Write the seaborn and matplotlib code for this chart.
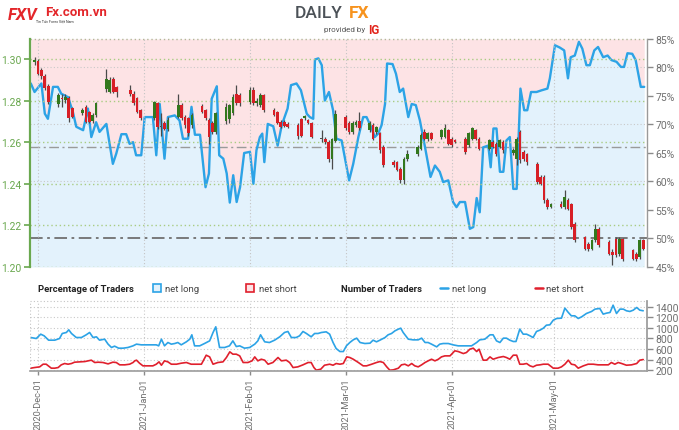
import numpy as np
import pandas as pd
import matplotlib
matplotlib.use("Agg")
import matplotlib.pyplot as plt
import matplotlib.dates as mdates
from matplotlib.patches import Rectangle
from matplotlib.lines import Line2D
from matplotlib.ticker import FuncFormatter
import seaborn as sns

# ---------------- data ----------------
# daily candles (USD/CAD), one week per row, Mon-Fri
candle_start, candle_end = "2020-11-30", "2021-05-27"
holidays = ["2020-12-25", "2021-01-01"]

opens = [
    1.2985, 1.2990, 1.2945, 1.2920, 1.2870,
    1.2785, 1.2812, 1.2802, 1.2810, 1.2762,
    1.2740, 1.2770, 1.2746, 1.2700, 1.2730,
    1.2858, 1.2842, 1.2906, 1.2866,
    1.2852, 1.2834, 1.2810, 1.2754,
    1.2714, 1.2786, 1.2673, 1.2690, 1.2665,
    1.2722, 1.2778, 1.2722, 1.2714, 1.2682,
    1.2773, 1.2754, 1.2706, 1.2690, 1.2650,
    1.2700, 1.2710, 1.2738, 1.2834, 1.2826,
    1.2794, 1.2850, 1.2790, 1.2778, 1.2826,
    1.2754, 1.2746, 1.2698, 1.2698, 1.2686,
    1.2682, 1.2710, 1.2714, 1.2706, 1.2690,
    1.2620, 1.2617, 1.2601, 1.2521, 1.2606,
    1.2722, 1.2690, 1.2650, 1.2682, 1.2700,
    1.2660, 1.2682, 1.2650, 1.2642, 1.2577,
    1.2505, 1.2505, 1.2473, 1.2417, 1.2521,
    1.2545, 1.2569, 1.2650, 1.2617, 1.2642,
    1.2625, 1.2625, 1.2658, 1.2617, 1.2609,
    1.2617, 1.2585, 1.2617, 1.2658, 1.2617,
    1.2569, 1.2601, 1.2593, 1.2577, 1.2601,
    1.2548, 1.2521, 1.2650, 1.2553, 1.2545,
    1.2497, 1.2433, 1.2433, 1.2321, 1.2289,
    1.2305, 1.2289, 1.2321, 1.2305, 1.2208,
    1.2144, 1.2112, 1.2088, 1.2128, 1.2184,
    1.2120, 1.2072, 1.2136, 1.2064, 1.2136,
    1.2080, 1.2064, 1.2048, 1.2128,
]
highs = [
    1.3010, 1.3000, 1.2955, 1.2930, 1.2880,
    1.2835, 1.2834, 1.2830, 1.2820, 1.2770,
    1.2765, 1.2778, 1.2752, 1.2740, 1.2795,
    1.2954, 1.2915, 1.2915, 1.2870,
    1.2874, 1.2845, 1.2815, 1.2760,
    1.2800, 1.2795, 1.2740, 1.2700, 1.2720,
    1.2834, 1.2790, 1.2730, 1.2720, 1.2740,
    1.2785, 1.2760, 1.2715, 1.2700, 1.2745,
    1.2790, 1.2785, 1.2834, 1.2874, 1.2835,
    1.2866, 1.2866, 1.2810, 1.2835, 1.2834,
    1.2765, 1.2750, 1.2705, 1.2705, 1.2695,
    1.2690, 1.2715, 1.2730, 1.2712, 1.2695,
    1.2657, 1.2625, 1.2610, 1.2620, 1.2755,
    1.2730, 1.2700, 1.2700, 1.2705, 1.2745,
    1.2700, 1.2690, 1.2680, 1.2650, 1.2585,
    1.2512, 1.2510, 1.2480, 1.2530, 1.2560,
    1.2585, 1.2645, 1.2665, 1.2650, 1.2650,
    1.2665, 1.2687, 1.2665, 1.2625, 1.2615,
    1.2625, 1.2650, 1.2675, 1.2665, 1.2625,
    1.2615, 1.2610, 1.2600, 1.2615, 1.2610,
    1.2570, 1.2625, 1.2658, 1.2560, 1.2550,
    1.2505, 1.2440, 1.2440, 1.2330, 1.2310,
    1.2315, 1.2369, 1.2330, 1.2310, 1.2215,
    1.2150, 1.2120, 1.2135, 1.2208, 1.2190,
    1.2130, 1.2085, 1.2142, 1.2142, 1.2140,
    1.2085, 1.2070, 1.2135, 1.2135,
]
lows = [
    1.2970, 1.2925, 1.2905, 1.2850, 1.2785,
    1.2770, 1.2770, 1.2790, 1.2695, 1.2715,
    1.2730, 1.2690, 1.2690, 1.2690, 1.2720,
    1.2840, 1.2835, 1.2835, 1.2818,
    1.2820, 1.2780, 1.2740, 1.2705,
    1.2705, 1.2665, 1.2630, 1.2660, 1.2655,
    1.2715, 1.2705, 1.2670, 1.2630, 1.2670,
    1.2740, 1.2705, 1.2593, 1.2640, 1.2640,
    1.2685, 1.2690, 1.2730, 1.2780, 1.2775,
    1.2785, 1.2780, 1.2775, 1.2770, 1.2745,
    1.2725, 1.2685, 1.2668, 1.2675, 1.2670,
    1.2617, 1.2625, 1.2705, 1.2685, 1.2620,
    1.2600, 1.2590, 1.2505, 1.2473, 1.2600,
    1.2660, 1.2640, 1.2640, 1.2675, 1.2660,
    1.2650, 1.2610, 1.2640, 1.2550, 1.2480,
    1.2480, 1.2460, 1.2405, 1.2400, 1.2510,
    1.2535, 1.2560, 1.2610, 1.2605, 1.2610,
    1.2615, 1.2620, 1.2585, 1.2575, 1.2595,
    1.2545, 1.2575, 1.2610, 1.2610, 1.2560,
    1.2560, 1.2570, 1.2535, 1.2570, 1.2550,
    1.2540, 1.2490, 1.2500, 1.2510, 1.2490,
    1.2400, 1.2395, 1.2310, 1.2280, 1.2282,
    1.2282, 1.2280, 1.2275, 1.2185, 1.2120,
    1.2080, 1.2075, 1.2080, 1.2120, 1.2095,
    1.2058, 1.2008, 1.2050, 1.2055, 1.2030,
    1.2035, 1.2030, 1.2040, 1.2080,
]
closes = [
    1.2995, 1.2930, 1.2917, 1.2860, 1.2795,
    1.2825, 1.2808, 1.2818, 1.2714, 1.2722,
    1.2755, 1.2698, 1.2698, 1.2730, 1.2786,
    1.2906, 1.2900, 1.2842, 1.2842,
    1.2830, 1.2786, 1.2746, 1.2714,
    1.2794, 1.2673, 1.2676, 1.2665, 1.2705,
    1.2778, 1.2714, 1.2682, 1.2642, 1.2730,
    1.2746, 1.2714, 1.2625, 1.2650, 1.2738,
    1.2770, 1.2778, 1.2818, 1.2786, 1.2786,
    1.2850, 1.2786, 1.2796, 1.2826, 1.2754,
    1.2730, 1.2690, 1.2674, 1.2680, 1.2675,
    1.2629, 1.2629, 1.2726, 1.2690, 1.2625,
    1.2617, 1.2601, 1.2521, 1.2617, 1.2734,
    1.2666, 1.2650, 1.2690, 1.2698, 1.2670,
    1.2690, 1.2617, 1.2674, 1.2561, 1.2489,
    1.2489, 1.2465, 1.2417, 1.2521, 1.2545,
    1.2577, 1.2634, 1.2617, 1.2642, 1.2617,
    1.2658, 1.2666, 1.2593, 1.2585, 1.2601,
    1.2553, 1.2642, 1.2666, 1.2617, 1.2569,
    1.2609, 1.2577, 1.2545, 1.2609, 1.2561,
    1.2561, 1.2617, 1.2513, 1.2521, 1.2505,
    1.2409, 1.2401, 1.2321, 1.2289, 1.2305,
    1.2289, 1.2337, 1.2281, 1.2192, 1.2128,
    1.2088, 1.2088, 1.2128, 1.2184, 1.2104,
    1.2064, 1.2056, 1.2056, 1.2136, 1.2040,
    1.2040, 1.2040, 1.2128, 1.2088,
]

# client sentiment, % of traders net long (days counted from 2020-12-01)
sent_days = [
    -2.1, -1.0, 1.0, 2.0, 2.9, 4.4, 5.8, 6.8, 8.8, 10.2,
    11.2, 13.2, 14.6, 15.6, 17.0, 18.0, 20.0, 21.9, 22.9, 24.4,
    25.8, 26.8, 27.8, 28.7, 30.2, 31.2, 33.6, 34.6, 35.6, 37.0,
    38.0, 40.0, 41.4, 42.4, 43.9, 44.9, 45.9, 47.4, 49.0, 50.0,
    50.8, 52.3, 53.0, 54.2, 55.2, 56.1, 57.1, 58.1, 59.1, 60.3,
    62.0, 63.0, 63.9, 64.9, 65.6, 66.2, 67.2, 68.8, 70.1, 71.3,
    73.0, 74.0, 75.6, 76.9, 78.6, 79.5, 80.5, 81.0, 82.0, 83.0,
    83.9, 85.1, 86.3, 87.3, 88.8, 89.8, 91.0, 92.2, 93.7, 95.1,
    96.1, 97.6, 98.5, 99.5, 100.5, 101.5, 102.1, 103.7, 104.7, 105.8,
    106.8, 108.3, 109.3, 110.5, 111.7, 113.2, 114.8, 116.1, 117.5, 118.5,
    120.0, 121.4, 122.4, 123.4, 124.9, 126.3, 127.3, 128.3, 129.2, 130.2,
    131.7, 132.4, 133.2, 134.1, 135.1, 136.1, 137.0, 138.0, 139.0, 140.0,
    140.6, 141.1, 142.2, 143.1, 144.2, 145.8, 147.3, 149.0, 149.7, 151.2,
    152.6, 153.9, 155.0, 155.8, 157.0, 158.2, 159.2, 160.4, 161.4, 162.7,
    163.8, 165.3, 166.6, 167.7, 169.2, 170.5, 171.4, 172.4, 173.8, 174.8,
    176.3, 177.3,
]
pct_long = [
    77.2, 75.7, 77.2, 71.9, 71.0, 76.6, 76.6, 75.4, 74.8, 72.2,
    69.6, 69.0, 72.8, 67.8, 70.4, 68.7, 70.1, 63.1, 64.9, 68.3,
    68.3, 66.6, 66.9, 64.6, 64.6, 71.3, 71.3, 64.6, 73.6, 64.0,
    71.3, 71.6, 70.7, 67.5, 67.5, 73.1, 68.2, 68.2, 59.0, 61.4,
    74.5, 76.7, 64.6, 64.0, 61.4, 56.3, 61.1, 56.4, 59.0, 65.0,
    65.2, 59.6, 65.5, 67.8, 68.4, 63.4, 70.1, 69.7, 66.3, 69.9,
    72.8, 76.9, 77.2, 76.0, 71.9, 71.3, 71.0, 81.4, 81.6, 80.4,
    74.2, 75.7, 72.5, 67.5, 67.2, 64.0, 60.2, 63.1, 67.8, 71.3,
    71.3, 69.3, 67.8, 68.4, 69.9, 73.6, 80.7, 80.6, 78.9, 75.7,
    76.3, 71.3, 73.6, 73.4, 70.7, 66.0, 60.8, 62.8, 61.7, 59.9,
    60.2, 56.4, 55.5, 56.4, 56.4, 51.7, 52.0, 57.1, 54.6, 66.0,
    66.3, 62.5, 69.3, 69.3, 61.7, 61.7, 67.2, 67.8, 58.7, 58.7,
    68.4, 76.3, 72.5, 72.5, 75.7, 75.7, 76.0, 76.3, 78.1, 83.9,
    83.5, 83.0, 78.1, 81.8, 82.1, 84.5, 83.3, 80.4, 80.4, 83.0,
    83.6, 81.8, 82.1, 81.3, 81.0, 80.1, 80.1, 82.5, 82.4, 81.3,
    76.6, 76.6,
]
avg_long_pct = 66.0

# number of traders
long_cnt_days = [
    -2.1, -0.5, 0.8, 1.8, 3.1, 4.9, 6.3, 7.1, 8.3, 9.0,
    9.8, 11.2, 12.7, 14.1, 15.1, 16.1, 17.1, 18.0, 19.5, 20.5,
    21.5, 22.4, 23.6, 24.9, 26.3, 27.8, 28.8, 30.2, 31.7, 33.1,
    34.6, 35.3, 36.1, 37.0, 38.0, 39.0, 40.0, 40.9, 41.9, 43.4,
    44.4, 45.0, 45.8, 47.3, 48.7, 50.2, 51.2, 52.0, 53.1, 54.6,
    56.0, 57.0, 58.0, 59.0, 60.4, 61.9, 63.4, 64.3, 65.1, 66.3,
    67.7, 69.2, 70.7, 72.1, 73.1, 74.1, 75.5, 76.5, 77.5, 78.5,
    79.9, 80.9, 81.9, 82.9, 84.3, 85.3, 86.3, 87.2, 88.3, 89.3,
    90.2, 91.2, 92.2, 93.2, 94.2, 95.6, 97.1, 98.0, 99.0, 100.0,
    101.5, 102.4, 103.4, 104.4, 105.4, 106.1, 106.8, 108.3, 109.7, 111.2,
    112.2, 113.2, 114.1, 115.1, 116.6, 117.5, 118.5, 120.0, 121.4, 122.9,
    124.4, 125.8, 126.8, 128.3, 129.2, 130.7, 132.2, 133.1, 134.1, 135.1,
    136.1, 137.0, 138.0, 139.0, 139.8, 140.9, 141.9, 142.9, 143.9, 144.8,
    145.8, 146.8, 147.8, 148.7, 149.7, 150.7, 151.7, 153.1, 154.1, 155.1,
    156.0, 157.0, 158.0, 159.0, 160.4, 161.9, 162.9, 164.3, 165.3, 166.3,
    167.3, 168.2, 169.2, 170.2, 171.2, 172.1, 173.1, 174.1, 175.1, 176.0,
    177.0,
]
long_cnt = [
    816, 797, 879, 848, 766, 766, 797, 892, 911, 961,
    892, 816, 816, 867, 911, 816, 829, 766, 785, 691,
    628, 653, 615, 615, 628, 659, 691, 678, 678, 678,
    678, 659, 785, 659, 722, 691, 703, 722, 678, 735,
    785, 867, 659, 659, 703, 753, 911, 1018, 628, 628,
    659, 753, 646, 659, 615, 628, 691, 753, 867, 735,
    722, 766, 829, 911, 930, 816, 816, 848, 930, 892,
    829, 892, 892, 911, 923, 879, 722, 609, 552, 552,
    659, 722, 772, 804, 722, 703, 709, 766, 735, 766,
    816, 867, 892, 942, 974, 992, 911, 785, 772, 772,
    804, 722, 722, 691, 640, 691, 703, 703, 678, 659,
    659, 659, 659, 722, 772, 785, 867, 867, 753, 722,
    804, 804, 766, 741, 741, 974, 879, 879, 848, 816,
    930, 955, 992, 1049, 1055, 1143, 1175, 1181, 1370, 1288,
    1225, 1225, 1175, 1206, 1269, 1307, 1351, 1364, 1257, 1276,
    1288, 1426, 1269, 1351, 1351, 1320, 1307, 1332, 1382, 1332,
    1320,
]
short_cnt_days = [
    -2.1, -1.0, 0.5, 1.5, 2.4, 3.9, 4.9, 5.9, 6.8, 7.8,
    8.8, 9.8, 10.7, 12.2, 13.7, 14.6, 15.6, 16.6, 17.6, 19.0,
    20.5, 21.9, 22.9, 23.9, 25.4, 26.8, 27.8, 28.3, 28.8, 29.7,
    30.7, 32.2, 33.6, 34.6, 35.4, 36.1, 37.0, 38.0, 39.0, 40.5,
    41.9, 43.4, 44.8, 46.3, 47.8, 49.2, 50.2, 51.2, 52.6, 54.1,
    55.1, 56.1, 57.0, 58.0, 59.0, 60.0, 61.4, 62.6, 63.4, 64.3,
    65.3, 66.3, 67.3, 68.7, 70.2, 71.2, 72.6, 73.6, 74.6, 76.0,
    77.5, 79.0, 79.9, 80.7, 81.4, 82.7, 83.8, 85.3, 86.3, 87.2,
    88.3, 89.3, 90.3, 91.2, 92.2, 93.7, 95.1, 96.1, 97.6, 99.0,
    100.0, 101.0, 102.0, 102.9, 103.9, 105.4, 106.3, 107.3, 108.3, 109.3,
    110.2, 111.2, 112.2, 113.2, 114.1, 115.1, 116.1, 117.1, 118.0, 119.0,
    120.5, 121.9, 122.9, 124.4, 125.3, 126.3, 127.3, 128.3, 129.0, 130.2,
    131.2, 132.2, 133.1, 134.6, 136.1, 137.0, 138.0, 139.0, 140.0, 140.9,
    141.9, 142.9, 143.9, 144.8, 145.8, 146.8, 147.8, 149.2, 150.7, 152.1,
    153.1, 154.1, 155.1, 156.0, 157.0, 158.0, 159.5, 160.9, 162.4, 163.8,
    165.3, 166.8, 167.7, 168.7, 169.7, 170.7, 172.1, 173.6, 175.1, 176.0,
    177.0,
]
short_cnt = [
    238, 250, 263, 313, 313, 238, 238, 250, 301, 326,
    313, 326, 351, 357, 363, 376, 389, 345, 351, 345,
    319, 351, 345, 301, 301, 313, 345, 376, 389, 332,
    282, 282, 282, 313, 357, 294, 376, 357, 313, 313,
    332, 345, 313, 313, 313, 483, 451, 313, 345, 357,
    439, 546, 502, 502, 470, 345, 345, 376, 451, 376,
    407, 389, 313, 345, 439, 376, 389, 345, 250, 263,
    301, 345, 345, 250, 200, 219, 294, 313, 294, 326,
    313, 326, 451, 439, 407, 345, 282, 282, 313, 345,
    363, 345, 263, 200, 206, 238, 301, 313, 282, 326,
    282, 263, 301, 345, 376, 407, 376, 407, 451, 470,
    470, 565, 552, 514, 533, 596, 615, 552, 596, 389,
    389, 451, 407, 439, 458, 439, 407, 483, 483, 313,
    313, 326, 282, 263, 294, 301, 313, 313, 238, 238,
    263, 313, 389, 313, 301, 238, 282, 313, 313, 301,
    301, 301, 345, 313, 345, 326, 294, 301, 326, 389,
    401,
]

price_ticks = [1.20, 1.22, 1.24, 1.26, 1.28, 1.30]
pct_ticks = [45, 50, 55, 60, 65, 70, 75, 80, 85]
count_ticks = [200, 400, 600, 800, 1000, 1200, 1400]

# ---------------- style ----------------
sns.set_theme(style="white")
plt.rcParams['font.family'] = ['Roboto', 'DejaVu Sans']

GREEN_AX = "#6aa84f"
GREEN_GRID = "#a9cc83"
GREY_TXT = "#6f6f6f"
BLUE = "#2ca3e6"
RED = "#e0202d"
FILL_BLUE = "#e3f2fc"
FILL_PINK = "#fde3e5"
CANDLE_UP = "#33781d"
CANDLE_DN = "#d71f26"
CANDLE_FLAT = "#505050"

BASE = pd.Timestamp("2020-12-01")


def day_dates(days):
    return BASE + pd.to_timedelta(np.asarray(days, dtype=float), unit="D")


cdates = pd.bdate_range(candle_start, candle_end)
cdates = cdates[~cdates.isin(pd.to_datetime(holidays))]
o, h, l, c = map(np.asarray, (opens, highs, lows, closes))

sent_dates = day_dates(sent_days)
xlim = (BASE - pd.Timedelta(days=2.43), BASE + pd.Timedelta(days=178.2))

fig = plt.figure(figsize=(6.79, 4.31), dpi=100)
ax = fig.add_axes([0.0437, 0.3782, 0.9096, 0.5290])
ax2 = ax.twinx()
axb = fig.add_axes([0.0437, 0.1369, 0.9096, 0.1631])

ax.set_zorder(ax2.get_zorder() + 1)
ax.patch.set_visible(False)

# ---- sentiment background + line (right axis) ----
ax2.fill_between(sent_dates, pct_long, 85, color=FILL_PINK, lw=0, zorder=0)
ax2.fill_between(sent_dates, 45, pct_long, color=FILL_BLUE, lw=0, zorder=0)
for v in [60, 70, 80]:
    ax2.axhline(v, color="#c9c9c9", ls=(0, (1, 2)), lw=0.8, zorder=1)
ax2.axhline(50, color="#707070", ls=(0, (7, 2.5, 1.5, 2.5)), lw=1.3, zorder=2)
ax2.axhline(avg_long_pct, color="#9a9a9a", ls=(0, (7, 2.5, 1.5, 2.5)), lw=1.0, zorder=2)
sns.lineplot(x=sent_dates, y=pct_long, ax=ax2, color=BLUE, lw=1.7, zorder=3)
ax2.set_ylim(45, 85)
ax2.set_yticks(pct_ticks)
ax2.yaxis.set_major_formatter(FuncFormatter(lambda v, _: f"{v:.0f}%"))
ax2.tick_params(axis="y", colors="#8a8a8a", labelcolor=GREY_TXT, labelsize=7.5,
                length=4, width=1, direction="out", pad=2)
ax2.set_ylabel("")

# ---- candles (left axis) ----
ax.yaxis.grid(True, color=GREEN_GRID, ls=(0, (1, 2)), lw=1.0)
ax.xaxis.grid(True, color="#c4c4c4", ls=(0, (1, 2)), lw=0.8)
ax.set_axisbelow(True)
body_col = np.where(c > o + 0.0003, CANDLE_UP, np.where(c < o - 0.0003, CANDLE_DN, CANDLE_FLAT))
ax.vlines(cdates, l, h, color="#4a4a4a", lw=0.9, zorder=3)
ax.bar(cdates, np.maximum(np.abs(c - o), 0.0004), bottom=np.minimum(o, c),
       width=0.78, color=body_col, lw=0, zorder=4)
ax.set_ylim(1.20, 1.3096)
ax.set_yticks(price_ticks)
ax.yaxis.set_major_formatter(FuncFormatter(lambda v, _: f"{v:.2f}"))
ax.tick_params(axis="y", colors=GREEN_AX, labelsize=7.5, length=4, width=1.2,
               direction="out", pad=2, left=True)
ax.axhline(1.3096, color="#b3b89a", ls=(0, (1, 2)), lw=1.0, clip_on=False)

ax.xaxis.set_major_locator(mdates.MonthLocator())
ax.tick_params(axis="x", bottom=False, labelbottom=False)
ax.set_xlim(*xlim)

for s in ["top", "bottom", "right"]:
    ax.spines[s].set_visible(False)
ax.spines["left"].set_color(GREEN_AX)
ax.spines["left"].set_linewidth(1.6)
for s in ["top", "bottom", "left"]:
    ax2.spines[s].set_visible(False)
ax2.spines["right"].set_color("#9a9a9a")
ax2.spines["right"].set_linewidth(1.0)

# ---- number of traders ----
sns.lineplot(x=day_dates(long_cnt_days), y=long_cnt, ax=axb, color=BLUE, lw=1.2)
sns.lineplot(x=day_dates(short_cnt_days), y=short_cnt, ax=axb, color=RED, lw=1.2)
axb.set_xlim(*xlim)
axb.set_ylim(185, 1510)
axb.yaxis.tick_right()
axb.set_yticks(count_ticks)
axb.tick_params(axis="y", colors="#8a8a8a", labelcolor=GREY_TXT, labelsize=7.5,
                length=4, width=1, direction="out", pad=2, right=True, left=False)
axb.xaxis.set_major_locator(mdates.MonthLocator())
axb.xaxis.set_major_formatter(mdates.DateFormatter("%Y-%b-%d"))
axb.tick_params(axis="x", colors="#8a8a8a", labelcolor=GREY_TXT, labelsize=6.7,
                labelrotation=90, length=3, width=1, direction="out", pad=1.5, bottom=True)
axb.grid(True, color="#c9c9c9", ls=(0, (1, 2)), lw=0.8)
axb.axhline(1510, color="#c4c4c4", ls=(0, (1, 2)), lw=0.8, clip_on=False)
axb.set_xlabel("")
axb.set_ylabel("")
for s in ["top", "left"]:
    axb.spines[s].set_visible(False)
axb.axvline(xlim[0], color="#c4c4c4", ls=(0, (1, 2)), lw=0.8)
axb.spines["bottom"].set_color("#a0a0a0")
axb.spines["right"].set_color("#9a9a9a")

# ---- legend row ----
ly = 1 - 289 / 431
W, H = 679, 431
fig.text(38 / W, ly, "Percentage of Traders", fontsize=6.8, fontweight="bold",
         color="#222222", va="center")
fig.patches.append(Rectangle((153 / W, (431 - 293) / H), 8 / W, 8 / H, transform=fig.transFigure,
                             facecolor=FILL_BLUE, edgecolor=BLUE, lw=1.2))
fig.text(165 / W, ly, "net long", fontsize=6.8, color="#444444", va="center")
fig.patches.append(Rectangle((246 / W, (431 - 293) / H), 8 / W, 8 / H, transform=fig.transFigure,
                             facecolor=FILL_PINK, edgecolor=RED, lw=1.2))
fig.text(259 / W, ly, "net short", fontsize=6.8, color="#444444", va="center")
fig.text(341 / W, ly, "Number of Traders", fontsize=6.8, fontweight="bold",
         color="#222222", va="center")
fig.lines.append(Line2D([440 / W, 448 / W], [ly, ly], transform=fig.transFigure, color=BLUE, lw=1.8))
fig.text(452 / W, ly, "net long", fontsize=6.8, color="#444444", va="center")
fig.lines.append(Line2D([535 / W, 543 / W], [ly, ly], transform=fig.transFigure, color=RED, lw=1.8))
fig.text(546 / W, ly, "net short", fontsize=6.8, color="#444444", va="center")

# ---- logos ----
fig.text(8 / W, 1 - 15 / H, "FXV", fontsize=12, fontweight="bold", fontstyle="italic",
         color="#e3262a", va="center")
fig.text(45 / W, 1 - 13 / H, "Fx.com.vn", fontsize=9.5, fontweight="bold",
         color="#e3262a", va="center")
fig.text(36 / W, 1 - 21.5 / H, "Tin Tức Forex Việt Nam", fontsize=2.6, color="#333333", va="center")
fig.text(295 / W, 1 - 14 / H, "DAILY", fontsize=12.5, fontweight="medium",
         color="#4b5157", va="center")
fig.text(349 / W, 1 - 14 / H, "FX", fontsize=12.5, fontweight="bold",
         color="#f7931e", va="center")
fig.text(324 / W, 1 - 30 / H, "provided by", fontsize=5.8, color="#555555", va="center")
fig.text(368 / W, 1 - 30 / H, "IG", fontsize=8.5, fontweight="bold", color="#e2231a", va="center")

fig.savefig("out.png", dpi=100)
